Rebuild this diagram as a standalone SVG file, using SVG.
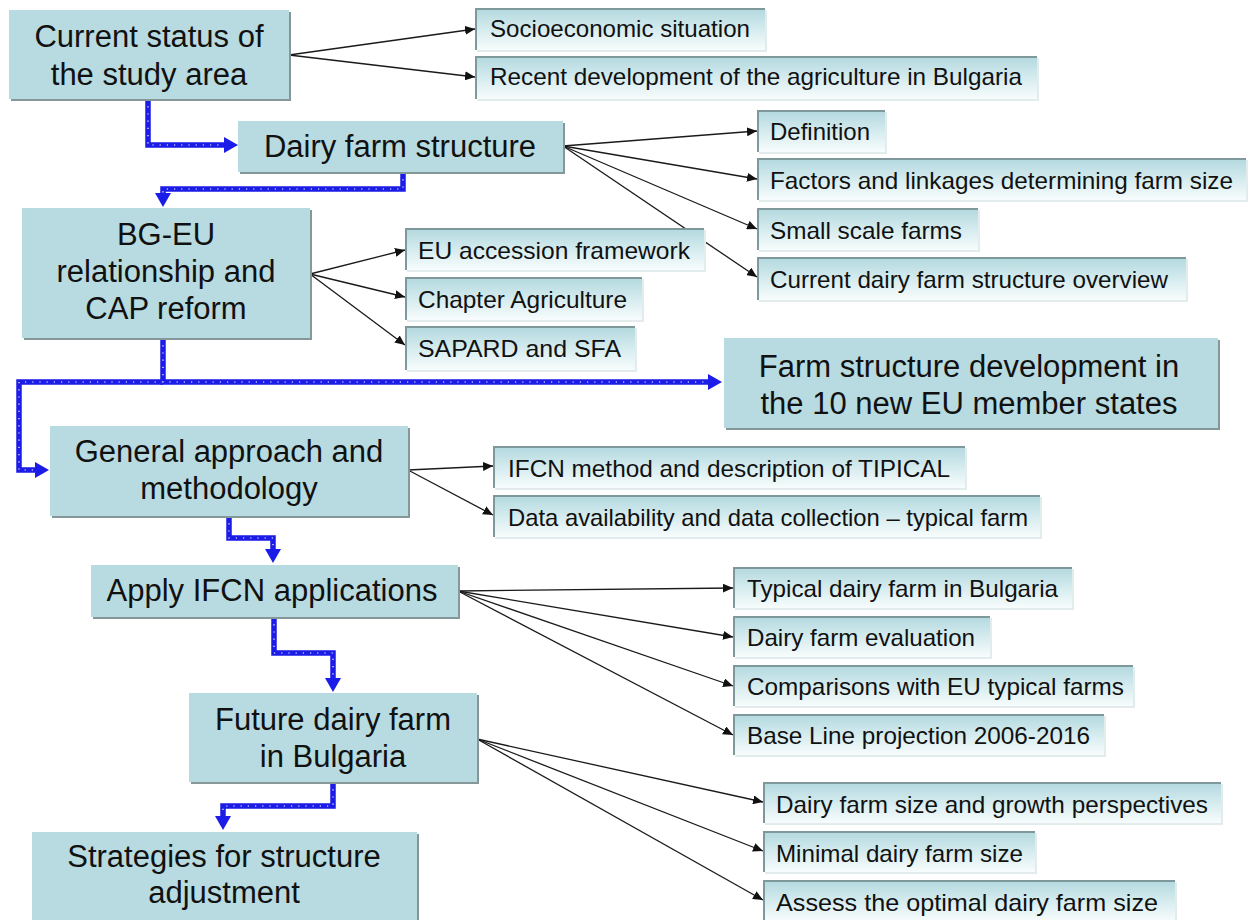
<svg xmlns="http://www.w3.org/2000/svg" width="1251" height="920" viewBox="0 0 1251 920">
  <defs>
    <linearGradient id="subFill" x1="0" y1="0" x2="0" y2="1">
      <stop offset="0" stop-color="#b1d8de"/>
      <stop offset="0.55" stop-color="#d8edf0"/>
      <stop offset="1" stop-color="#f8fcfc"/>
    </linearGradient>
    <marker id="arrowBlack" markerUnits="userSpaceOnUse" markerWidth="11" markerHeight="9" refX="10" refY="4.5" orient="auto">
      <path d="M0,0 L10,4.5 L0,9 z" fill="#111"/>
    </marker>
    <marker id="arrowBlue" markerUnits="userSpaceOnUse" markerWidth="15" markerHeight="16" refX="0" refY="8" orient="auto">
      <path d="M0,0 L14,8 L0,16 z" fill="#1c1ce8"/>
    </marker>
  </defs>
  <style>
    .main .shadow { fill: #86979a; }
    .main .face { fill: #b7dbe0; }
    .main text { font-family: "Liberation Sans", Arial, sans-serif; font-size: 31px; fill: #111; text-anchor: middle; }
    .sub .face { fill: url(#subFill); }
    .sub .glow { fill: #e3eced; }
    .sub .edge { stroke: #7f989c; stroke-width: 2; fill: none; }
    .sub text { font-family: "Liberation Sans", Arial, sans-serif; font-size: 24px; fill: #111; }
    .thin { stroke: #1a1a1a; stroke-width: 1.3; fill: none; marker-end: url(#arrowBlack); }
    .flow { stroke: #1c1ce8; stroke-width: 5.5; fill: none; stroke-linejoin: miter; marker-end: url(#arrowBlue); }
    .flowDots { stroke: #ffffff; stroke-width: 1.2; fill: none; stroke-dasharray: 1.2 6; }
  </style>

  <rect width="1251" height="920" fill="#ffffff"/>

  <g id="connectors">
    <!-- thin branch connectors -->
    <g id="branches">
      <path class="thin" d="M289,55 L475,29"/>
      <path class="thin" d="M289,55 L475,77"/>
      <path class="thin" d="M563,146 L757,131"/>
      <path class="thin" d="M563,146 L757,179"/>
      <path class="thin" d="M563,146 L757,229"/>
      <path class="thin" d="M563,146 L757,277"/>
      <path class="thin" d="M310,274 L405,250"/>
      <path class="thin" d="M310,274 L405,297"/>
      <path class="thin" d="M310,274 L405,345"/>
      <path class="thin" d="M408,470 L493,466"/>
      <path class="thin" d="M408,470 L493,515"/>
      <path class="thin" d="M458,591 L733,588"/>
      <path class="thin" d="M458,591 L733,637"/>
      <path class="thin" d="M458,591 L733,686"/>
      <path class="thin" d="M458,591 L733,735"/>
      <path class="thin" d="M477,739 L763,802"/>
      <path class="thin" d="M477,739 L763,851"/>
      <path class="thin" d="M477,739 L763,900"/>
    </g>
    <!-- main flow connectors -->
    <g id="flow">
      <path class="flow" d="M148,99 L148,145 L224,145"/>
      <path class="flowDots" d="M148,99 L148,145 L224,145"/>
      <path class="flow" d="M403,172 L403,189 L163,189 L163,193"/>
      <path class="flowDots" d="M403,172 L403,189 L163,189 L163,193"/>
      <path class="flow" d="M163,338 L163,382 L708,382"/>
      <path class="flowDots" d="M163,338 L163,382 L708,382"/>
      <path class="flow" d="M163,382 L19,382 L19,470 L35,470"/>
      <path class="flowDots" d="M163,382 L19,382 L19,470 L35,470"/>
      <path class="flow" d="M229,516 L229,538 L273,538 L273,549"/>
      <path class="flowDots" d="M229,516 L229,538 L273,538 L273,549"/>
      <path class="flow" d="M274,617 L274,653 L333,653 L333,678"/>
      <path class="flowDots" d="M274,617 L274,653 L333,653 L333,678"/>
      <path class="flow" d="M333,782 L333,806 L223,806 L223,816"/>
      <path class="flowDots" d="M333,782 L333,806 L223,806 L223,816"/>
    </g>
  </g>

  <!-- main topic boxes -->
  <g id="status" class="main">
    <rect class="shadow" x="11" y="12" width="280" height="89"/>
    <rect class="face" x="9" y="10" width="280" height="89"/>
    <text x="149" y="47">Current status of</text>
    <text x="149" y="85">the study area</text>
  </g>
  <g id="dairy-structure" class="main">
    <rect class="shadow" x="240" y="123" width="325" height="51"/>
    <rect class="face" x="238" y="121" width="325" height="51"/>
    <text x="400" y="157">Dairy farm structure</text>
  </g>
  <g id="bg-eu" class="main">
    <rect class="shadow" x="24" y="210" width="288" height="130"/>
    <rect class="face" x="22" y="208" width="288" height="130"/>
    <text x="166" y="245">BG-EU</text>
    <text x="166" y="282">relationship and</text>
    <text x="166" y="319">CAP reform</text>
  </g>
  <g id="new-members" class="main">
    <rect class="shadow" x="726" y="340" width="494" height="90"/>
    <rect class="face" x="724" y="338" width="494" height="90"/>
    <text x="969" y="377">Farm structure development in</text>
    <text x="969" y="414">the 10 new EU member states</text>
  </g>
  <g id="approach" class="main">
    <rect class="shadow" x="52" y="428" width="358" height="90"/>
    <rect class="face" x="50" y="426" width="358" height="90"/>
    <text x="229" y="462">General approach and</text>
    <text x="229" y="499">methodology</text>
  </g>
  <g id="ifcn" class="main">
    <rect class="shadow" x="93" y="567" width="367" height="52"/>
    <rect class="face" x="91" y="565" width="367" height="52"/>
    <text x="272" y="601">Apply IFCN applications</text>
  </g>
  <g id="future" class="main">
    <rect class="shadow" x="191" y="695" width="288" height="89"/>
    <rect class="face" x="189" y="693" width="288" height="89"/>
    <text x="333" y="730">Future dairy farm</text>
    <text x="333" y="767">in Bulgaria</text>
  </g>
  <g id="strategies" class="main">
    <rect class="shadow" x="34" y="834" width="385" height="100"/>
    <rect class="face" x="32" y="832" width="385" height="100"/>
    <text x="224" y="867">Strategies for structure</text>
    <text x="224" y="903">adjustment</text>
  </g>

  <!-- sub topic boxes -->
  <g id="socioeconomic" class="sub">
    <rect class="glow" x="477" y="10" width="290" height="42"/>
    <rect class="face" x="475" y="8" width="290" height="42"/>
    <path class="edge" d="M476,50 L476,9 L765,9"/>
    <text x="490" y="37" textLength="260" lengthAdjust="spacingAndGlyphs">Socioeconomic situation</text>
  </g>
  <g id="agri-development" class="sub">
    <rect class="glow" x="477" y="58" width="562" height="43"/>
    <rect class="face" x="475" y="56" width="562" height="43"/>
    <path class="edge" d="M476,99 L476,57 L1037,57"/>
    <text x="490" y="85" textLength="532" lengthAdjust="spacingAndGlyphs">Recent development of the agriculture in Bulgaria</text>
  </g>
  <g id="definition" class="sub">
    <rect class="glow" x="759" y="112" width="128" height="42"/>
    <rect class="face" x="757" y="110" width="128" height="42"/>
    <path class="edge" d="M758,152 L758,111 L885,111"/>
    <text x="770" y="140" textLength="100" lengthAdjust="spacingAndGlyphs">Definition</text>
  </g>
  <g id="factors" class="sub">
    <rect class="glow" x="759" y="160" width="489" height="42"/>
    <rect class="face" x="757" y="158" width="489" height="42"/>
    <path class="edge" d="M758,200 L758,159 L1246,159"/>
    <text x="770" y="189" textLength="463" lengthAdjust="spacingAndGlyphs">Factors and linkages determining farm size</text>
  </g>
  <g id="small-scale" class="sub">
    <rect class="glow" x="759" y="210" width="221" height="42"/>
    <rect class="face" x="757" y="208" width="221" height="42"/>
    <path class="edge" d="M758,250 L758,209 L978,209"/>
    <text x="770" y="239" textLength="192" lengthAdjust="spacingAndGlyphs">Small scale farms</text>
  </g>
  <g id="overview" class="sub">
    <rect class="glow" x="759" y="259" width="429" height="43"/>
    <rect class="face" x="757" y="257" width="429" height="43"/>
    <path class="edge" d="M758,300 L758,258 L1186,258"/>
    <text x="770" y="288" textLength="398" lengthAdjust="spacingAndGlyphs">Current dairy farm structure overview</text>
  </g>
  <g id="accession" class="sub">
    <rect class="glow" x="407" y="230" width="299" height="42"/>
    <rect class="face" x="405" y="228" width="299" height="42"/>
    <path class="edge" d="M406,270 L406,229 L704,229"/>
    <text x="418" y="259" textLength="272" lengthAdjust="spacingAndGlyphs">EU accession framework</text>
  </g>
  <g id="chapter" class="sub">
    <rect class="glow" x="407" y="279" width="237" height="43"/>
    <rect class="face" x="405" y="277" width="237" height="43"/>
    <path class="edge" d="M406,320 L406,278 L642,278"/>
    <text x="418" y="308" textLength="209" lengthAdjust="spacingAndGlyphs">Chapter Agriculture</text>
  </g>
  <g id="sapard" class="sub">
    <rect class="glow" x="407" y="328" width="230" height="44"/>
    <rect class="face" x="405" y="326" width="230" height="44"/>
    <path class="edge" d="M406,370 L406,327 L635,327"/>
    <text x="418" y="357" textLength="203" lengthAdjust="spacingAndGlyphs">SAPARD and SFA</text>
  </g>
  <g id="tipical" class="sub">
    <rect class="glow" x="495" y="448" width="472" height="42"/>
    <rect class="face" x="493" y="446" width="472" height="42"/>
    <path class="edge" d="M494,488 L494,447 L965,447"/>
    <text x="508" y="477" textLength="442" lengthAdjust="spacingAndGlyphs">IFCN method and description of TIPICAL</text>
  </g>
  <g id="data" class="sub">
    <rect class="glow" x="495" y="497" width="547" height="42"/>
    <rect class="face" x="493" y="495" width="547" height="42"/>
    <path class="edge" d="M494,537 L494,496 L1040,496"/>
    <text x="508" y="526" textLength="520" lengthAdjust="spacingAndGlyphs">Data availability and data collection – typical farm</text>
  </g>
  <g id="typical-bg" class="sub">
    <rect class="glow" x="735" y="569" width="339" height="41"/>
    <rect class="face" x="733" y="567" width="339" height="41"/>
    <path class="edge" d="M734,608 L734,568 L1072,568"/>
    <text x="747" y="597" textLength="311" lengthAdjust="spacingAndGlyphs">Typical dairy farm in Bulgaria</text>
  </g>
  <g id="evaluation" class="sub">
    <rect class="glow" x="735" y="618" width="257" height="41"/>
    <rect class="face" x="733" y="616" width="257" height="41"/>
    <path class="edge" d="M734,657 L734,617 L990,617"/>
    <text x="747" y="646" textLength="228" lengthAdjust="spacingAndGlyphs">Dairy farm evaluation</text>
  </g>
  <g id="comparisons" class="sub">
    <rect class="glow" x="735" y="667" width="400" height="41"/>
    <rect class="face" x="733" y="665" width="400" height="41"/>
    <path class="edge" d="M734,706 L734,666 L1133,666"/>
    <text x="747" y="695" textLength="377" lengthAdjust="spacingAndGlyphs">Comparisons with EU typical farms</text>
  </g>
  <g id="baseline" class="sub">
    <rect class="glow" x="735" y="716" width="371" height="41"/>
    <rect class="face" x="733" y="714" width="371" height="41"/>
    <path class="edge" d="M734,755 L734,715 L1104,715"/>
    <text x="747" y="744" textLength="343" lengthAdjust="spacingAndGlyphs">Base Line projection 2006-2016</text>
  </g>
  <g id="growth" class="sub">
    <rect class="glow" x="765" y="784" width="458" height="41"/>
    <rect class="face" x="763" y="782" width="458" height="41"/>
    <path class="edge" d="M764,823 L764,783 L1221,783"/>
    <text x="776" y="813" textLength="432" lengthAdjust="spacingAndGlyphs">Dairy farm size and growth perspectives</text>
  </g>
  <g id="minimal" class="sub">
    <rect class="glow" x="765" y="833" width="272" height="41"/>
    <rect class="face" x="763" y="831" width="272" height="41"/>
    <path class="edge" d="M764,872 L764,832 L1035,832"/>
    <text x="776" y="862" textLength="247" lengthAdjust="spacingAndGlyphs">Minimal dairy farm size</text>
  </g>
  <g id="optimal" class="sub">
    <rect class="glow" x="765" y="882" width="412" height="41"/>
    <rect class="face" x="763" y="880" width="412" height="41"/>
    <path class="edge" d="M764,921 L764,881 L1175,881"/>
    <text x="776" y="911" textLength="382" lengthAdjust="spacingAndGlyphs">Assess the optimal dairy farm size</text>
  </g>
</svg>
